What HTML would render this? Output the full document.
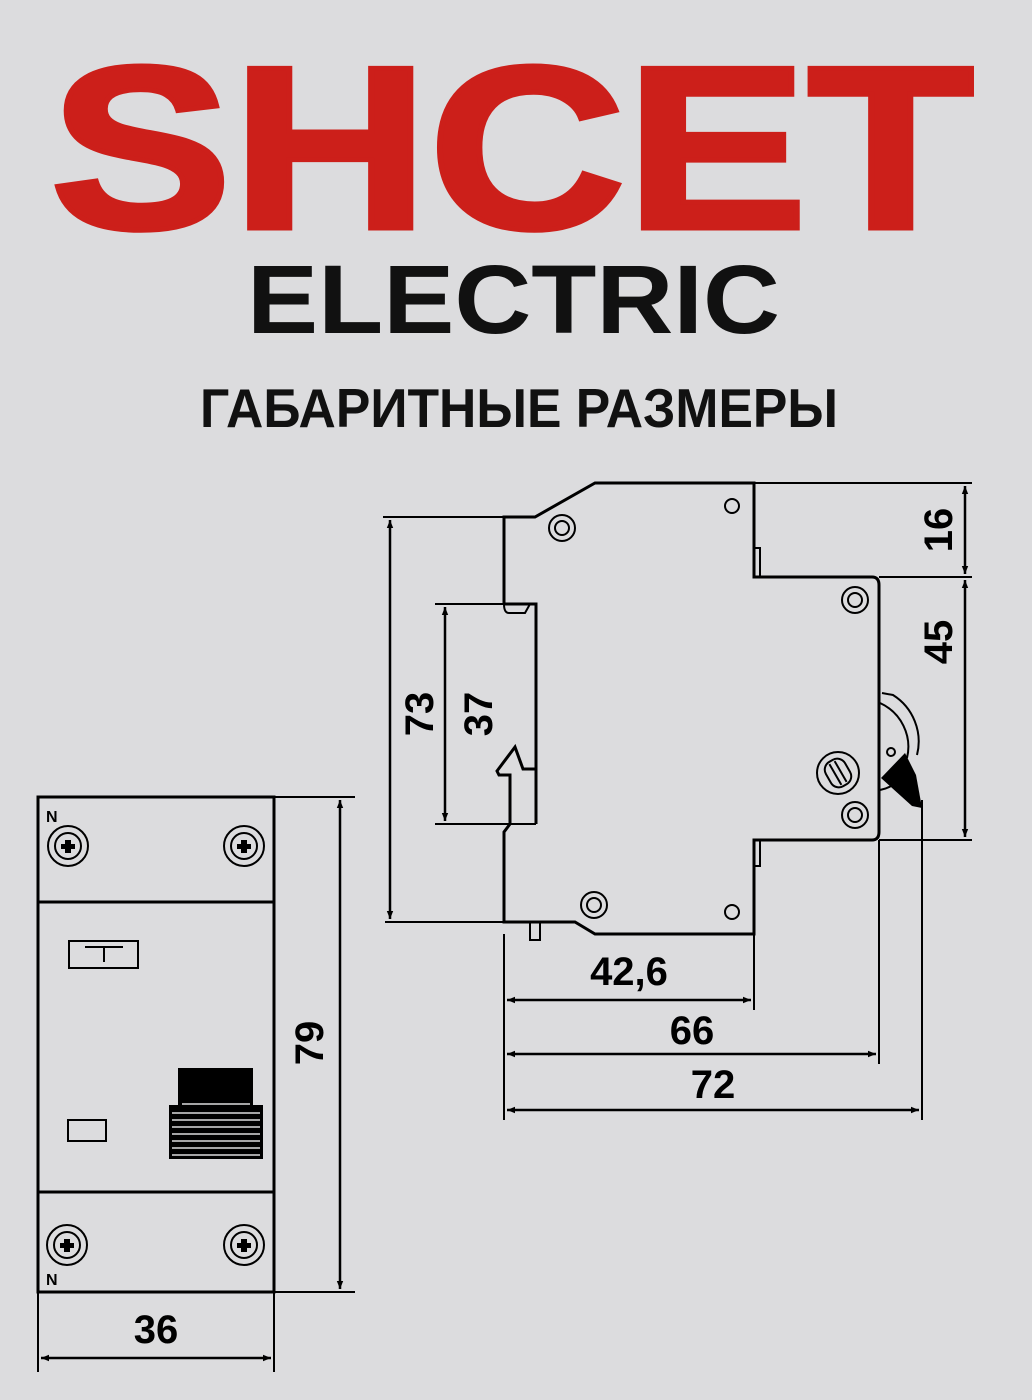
<!DOCTYPE html>
<html><head><meta charset="utf-8"><style>
html,body{margin:0;padding:0;background:#dcdcde;}
svg{display:block;}
text{font-family:"Liberation Sans",sans-serif;font-weight:bold;}
</style></head><body>
<svg width="1032" height="1400" viewBox="0 0 1032 1400" xmlns="http://www.w3.org/2000/svg">
<rect width="1032" height="1400" fill="#dcdcde"/>
<defs>
<marker id="ar" viewBox="0 0 10 10" refX="10" refY="5" markerWidth="12" markerHeight="8" orient="auto-start-reverse" markerUnits="userSpaceOnUse"><path d="M0,1 L10,5 L0,9 z" fill="#000"/></marker>
</defs>
<text x="50" y="228" font-size="232" fill="#cc1f1a" stroke="#cc1f1a" stroke-width="5" textLength="924" lengthAdjust="spacingAndGlyphs">SHCET</text>
<text x="247" y="333" font-size="97" fill="#111" textLength="533" lengthAdjust="spacingAndGlyphs">ELECTRIC</text>
<text x="200" y="427" font-size="55" fill="#111" textLength="638" lengthAdjust="spacingAndGlyphs">ГАБАРИТНЫЕ РАЗМЕРЫ</text>

<g fill="none" stroke="#000" stroke-width="3">
<path d="M504,604 L504,517 L535,517 L595,483 L754,483 L754,577 L872,577 Q879,577 879,585 L879,832 Q879,840 872,840 L754,840 L754,934 L595,934 L575,922 L504,922 L504,832 L510,824 L510,775 L499,775 L497,771 L515,747 L523,769 L536,769"/>
<path d="M536,824 L536,604 L504,604"/>
<path d="M504,604 Q504,613 509,613 L525,613 L530,604" stroke-width="2"/>
<path d="M754,548 L760,548 L760,577 M754,840 L754,866 L760,866 L760,840" stroke-width="2"/>
<path d="M530,922 L530,940 L540,940 L540,922" stroke-width="2"/>
</g>
<g fill="none" stroke="#000" stroke-width="2">
<path d="M383,517 L504,517 M385,922 L504,922 M435,604 L504,604 M435,824 L536,824 M754,483 L972,483 M879,577 L972,577 M879,840 L972,840 M504,934 L504,1120 M754,934 L754,1010 M879,840 L879,1064 M922,800 L922,1120"/>
<circle cx="562" cy="528" r="13"/><circle cx="562" cy="528" r="7"/>
<circle cx="855" cy="600" r="13"/><circle cx="855" cy="600" r="7"/>
<circle cx="855" cy="815" r="13"/><circle cx="855" cy="815" r="7"/>
<circle cx="594" cy="905" r="13"/><circle cx="594" cy="905" r="7"/>
<circle cx="732" cy="506" r="7"/><circle cx="732" cy="912" r="7"/>
<circle cx="838" cy="773" r="21"/>
<g transform="rotate(-30 838 773)">
<rect x="827" y="759" width="22" height="28" rx="9"/>
<path d="M835,761 L835,785 M841,761 L841,785"/>
</g>
<path d="M882,693 L893,695 A55,55 0 0 1 917,755"/>
<path d="M880,703 A48,48 0 0 1 907,758"/>
<path d="M880,790 A38,38 0 0 0 897,782"/>
<circle cx="891" cy="752" r="4"/>
</g>
<path d="M881,778 L905,753 L916,775 L922,808 L912,806 Z" fill="#000"/>
<g stroke="#000" stroke-width="2.5" fill="none">
<line x1="390" y1="520" x2="390" y2="919" marker-start="url(#ar)" marker-end="url(#ar)"/>
<line x1="445" y1="607" x2="445" y2="821" marker-start="url(#ar)" marker-end="url(#ar)"/>
<line x1="965" y1="486" x2="965" y2="574" marker-start="url(#ar)" marker-end="url(#ar)"/>
<line x1="965" y1="580" x2="965" y2="837" marker-start="url(#ar)" marker-end="url(#ar)"/>
<line x1="507" y1="1000" x2="751" y2="1000" marker-start="url(#ar)" marker-end="url(#ar)"/>
<line x1="507" y1="1054" x2="876" y2="1054" marker-start="url(#ar)" marker-end="url(#ar)"/>
<line x1="507" y1="1110" x2="919" y2="1110" marker-start="url(#ar)" marker-end="url(#ar)"/>
<line x1="340" y1="800" x2="340" y2="1289" marker-start="url(#ar)" marker-end="url(#ar)"/>
<line x1="41" y1="1358" x2="271" y2="1358" marker-start="url(#ar)" marker-end="url(#ar)"/>
</g>
<g font-size="40" fill="#000">
<text transform="translate(433,714) rotate(-90)" text-anchor="middle">73</text>
<text transform="translate(492,714) rotate(-90)" text-anchor="middle">37</text>
<text transform="translate(952,530) rotate(-90)" text-anchor="middle">16</text>
<text transform="translate(952,642) rotate(-90)" text-anchor="middle">45</text>
<text transform="translate(323,1043) rotate(-90)" text-anchor="middle">79</text>
<text x="629" y="985" text-anchor="middle">42,6</text>
<text x="692" y="1044" text-anchor="middle">66</text>
<text x="713" y="1098" text-anchor="middle">72</text>
<text x="156" y="1343" text-anchor="middle">36</text>
</g>

<g fill="none" stroke="#000">
<rect x="38" y="797" width="236" height="495" stroke-width="3"/>
<line x1="38" y1="902" x2="274" y2="902" stroke-width="3"/>
<line x1="38" y1="1192" x2="274" y2="1192" stroke-width="3"/>
<path d="M274,797 L355,797 M274,1292 L355,1292 M38,1292 L38,1372 M274,1292 L274,1372" stroke-width="2"/>
<rect x="69" y="941" width="69" height="27" stroke-width="2"/>
<path d="M85,947 L123,947 M104,947 L104,962" stroke-width="2"/>
<rect x="68" y="1120" width="38" height="21" stroke-width="2"/>
<g stroke-width="2">
<circle cx="68" cy="846" r="20"/><circle cx="68" cy="846" r="13"/>
<circle cx="244" cy="846" r="20"/><circle cx="244" cy="846" r="13"/>
<circle cx="67" cy="1245" r="20"/><circle cx="67" cy="1245" r="13"/>
<circle cx="244" cy="1245" r="20"/><circle cx="244" cy="1245" r="13"/>
</g>
</g>
<g fill="#000">
<path d="M65,840h6v4h4v5h-4v4h-6v-4h-4v-5h4z"/>
<path d="M241,840h6v4h4v5h-4v4h-6v-4h-4v-5h4z"/>
<path d="M64,1239h6v4h4v5h-4v4h-6v-4h-4v-5h4z"/>
<path d="M241,1239h6v4h4v5h-4v4h-6v-4h-4v-5h4z"/>
<rect x="178" y="1068" width="75" height="38"/>
<rect x="169" y="1105" width="94" height="54"/>
</g>
<g stroke="#dcdcde" stroke-width="1.5">
<line x1="182" y1="1104" x2="250" y2="1104"/>
<line x1="172" y1="1113" x2="260" y2="1113"/>
<line x1="172" y1="1120" x2="260" y2="1120"/>
<line x1="172" y1="1127" x2="260" y2="1127"/>
<line x1="172" y1="1134" x2="260" y2="1134"/>
<line x1="172" y1="1141" x2="260" y2="1141"/>
<line x1="172" y1="1148" x2="260" y2="1148"/>
<line x1="172" y1="1155" x2="260" y2="1155"/>
</g>
<text x="46" y="822" font-size="16" fill="#000">N</text>
<text x="46" y="1285" font-size="16" fill="#000">N</text>
</svg>
</body></html>
